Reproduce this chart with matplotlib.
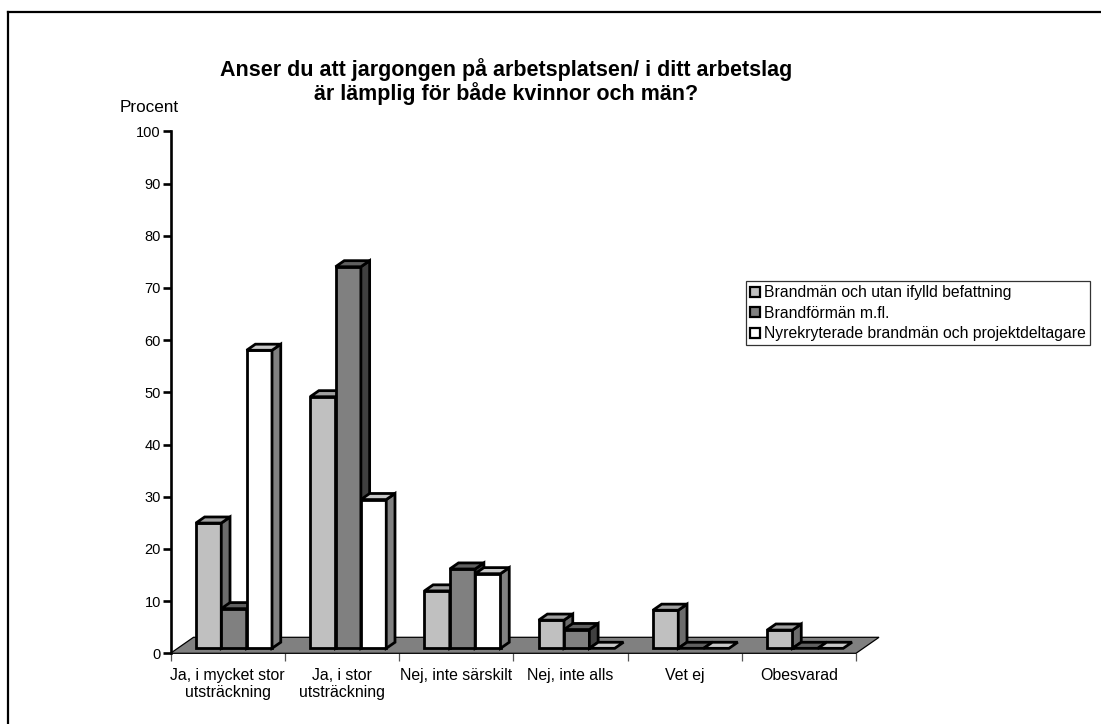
import numpy as np
import matplotlib
matplotlib.use("Agg")
import matplotlib.pyplot as plt
from matplotlib.patches import Polygon, Patch
from matplotlib.lines import Line2D

plt.rcParams['font.family'] = ['Liberation Sans', 'DejaVu Sans']

# ---- data -------------------------------------------------------------
categories = ["Ja, i mycket stor\nutsträckning", "Ja, i stor\nutsträckning",
              "Nej, inte särskilt", "Nej, inte alls", "Vet ej", "Obesvarad"]
series_names = ["Brandmän och utan ifylld befattning",
                "Brandförmän m.fl.",
                "Nyrekryterade brandmän och projektdeltagare"]
brandman = [24.0, 48.2, 11.0, 5.4, 7.3, 3.5]
brandforman = [7.6, 73.1, 15.2, 3.6, 0.0, 0.0]
nyrekryterade = [57.1, 28.5, 14.3, 0.0, 0.0, 0.0]
y_ticks = list(range(0, 101, 10))
title = "Anser du att jargongen på arbetsplatsen/ i ditt arbetslag\när lämplig för både kvinnor och män?"
y_label = "Procent"

series_values = [brandman, brandforman, nyrekryterade]
# face colours per series: front, top, side
face_colors = [("#C0C0C0", "#A0A0A0", "#6C6C6C"),
               ("#808080", "#606060", "#404040"),
               ("#FFFFFF", "#C8C8C8", "#808080")]

W, H, DPI = 1101, 724, 100
fig = plt.figure(figsize=(W / DPI, H / DPI), dpi=DPI)
fig.patch.set_facecolor("white")

# plotting area: x = category index, y = percent
ax_left, ax_right = 170.5, 856.0
ax_bottom, ax_top = 653.3, 131.3
ax = fig.add_axes([ax_left / W, (H - ax_bottom) / H,
                   (ax_right - ax_left) / W, (ax_bottom - ax_top) / H])
ax.set_xlim(0, len(categories))
ax.set_ylim(0, 100)
ax.patch.set_visible(False)
for s in ["top", "right", "bottom"]:
    ax.spines[s].set_visible(False)
ax.spines["left"].set_linewidth(1.9)
ax.spines["left"].set_zorder(10)

ax.set_yticks(y_ticks)
ax.tick_params(axis="y", direction="out", length=5.5, width=1.9,
               labelsize=10.5, pad=1.5, colors="black")
ax.set_xticks(range(len(categories) + 1))
ax.set_xticklabels([""] * (len(categories) + 1))
ax.tick_params(axis="x", which="major", direction="out", length=6,
               width=0.9, color="#555555")
ax.set_xticks(np.arange(len(categories)) + 0.5, minor=True)
ax.set_xticklabels(categories, minor=True, fontsize=11.4,
                   linespacing=1.2)
ax.tick_params(axis="x", which="minor", length=0, pad=10.5)

# oblique depth vector in display pixels (full floor depth)
depth = np.array([23.0, 16.0])
bar_front, bar_back = 0.31, 0.69
gap_left, bar_w = 0.16, 0.222


def to_disp(xy, d):
    pts = ax.transData.transform(np.asarray(xy, dtype=float))
    return pts + np.outer(np.asarray(d, dtype=float), depth)


def face(xy, d, color, lw=2.0, z=2):
    poly = Polygon(to_disp(xy, d), closed=True, transform=None,
                   facecolor=color, edgecolor="black", linewidth=lw,
                   joinstyle="miter", zorder=z)
    fig.add_artist(poly)
    poly.set_clip_on(False)


# floor
n = len(categories)
face([(0, 0), (n, 0), (n, 0), (0, 0)], [0, 0, 1, 1], "#808080", lw=0.9, z=1)

# bars, drawn left to right so that neighbours cover hidden side faces
z = 2
for i in range(n):
    for j, vals in enumerate(series_values):
        v = vals[i]
        x0 = i + gap_left + j * bar_w
        x1 = x0 + bar_w
        fc, tc, sc = face_colors[j]
        z += 0.01
        if v > 0:
            face([(x0, 0), (x1, 0), (x1, v), (x0, v)],
                 [bar_front] * 4, fc, z=z)
            face([(x1, 0), (x1, 0), (x1, v), (x1, v)],
                 [bar_front, bar_back, bar_back, bar_front], sc, z=z)
        face([(x0, v), (x1, v), (x1, v), (x0, v)],
             [bar_front, bar_front, bar_back, bar_back], tc, z=z)

# titles
fig.text(506 / W, 1 - 58 / H, title, ha="center", va="top",
         fontsize=15.5, fontweight="bold", linespacing=1.05)
fig.text(120 / W, 1 - 108 / H, y_label, ha="left", va="center",
         fontsize=12.3)

# legend
handles = [Patch(facecolor=c[0], edgecolor="black", linewidth=1.6)
           for c in face_colors]
leg = fig.legend(handles, series_names, loc="upper left",
                 bbox_to_anchor=(746 / W, 1 - 281 / H),
                 fontsize=11.3, frameon=True, fancybox=False,
                 handlelength=0.6, handleheight=0.6, handletextpad=0.25,
                 borderpad=0.28, labelspacing=0.34, borderaxespad=0.0)
leg.get_frame().set_edgecolor("black")
leg.get_frame().set_linewidth(0.9)

# outer frame (runs off the right and bottom edges)
fx, fy = 7.5 / W, 1 - 11.5 / H
fig.add_artist(Line2D([fx, 1.01], [fy, fy], transform=fig.transFigure,
                      color="black", linewidth=1.6))
fig.add_artist(Line2D([fx, fx], [fy, -0.01], transform=fig.transFigure,
                      color="black", linewidth=1.6))

fig.savefig("out.png", dpi=DPI)
